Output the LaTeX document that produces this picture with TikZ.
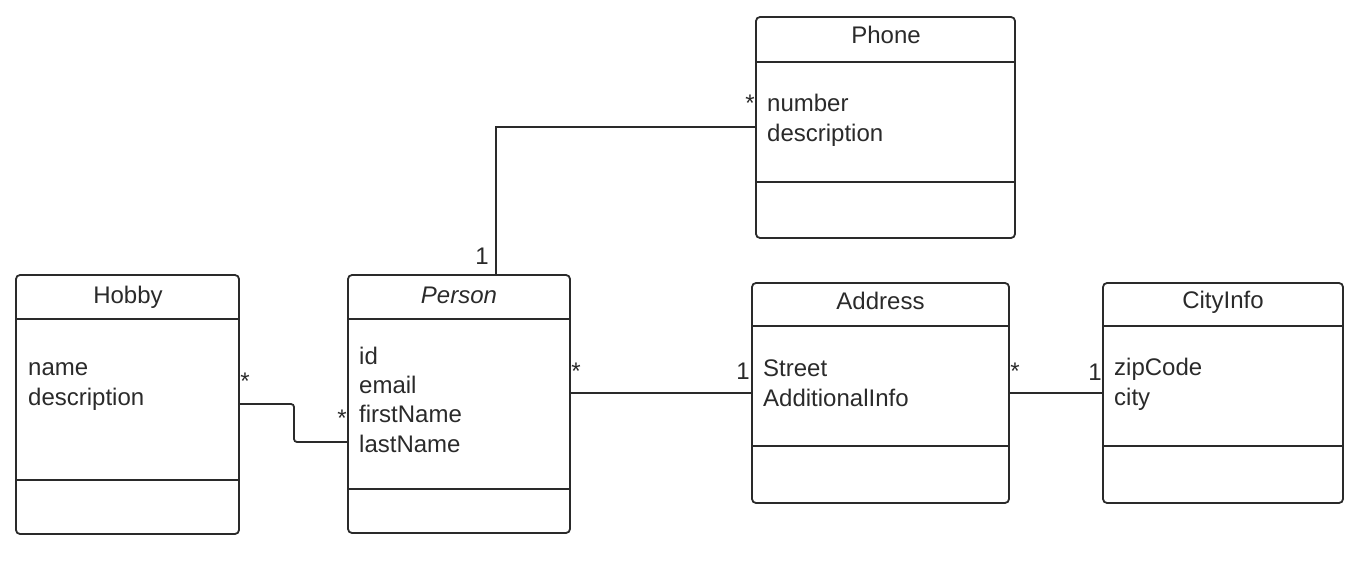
\documentclass[tikz,border=0pt]{standalone}
\usepackage{fontspec}
\setmainfont{Liberation Sans}
\definecolor{ink}{HTML}{2A2A2A}
\begin{document}
\begin{tikzpicture}[x=1pt,y=-1pt,
  font=\fontsize{24}{29.3}\selectfont,
  cls/.style={draw=ink, line width=1.8pt, rounded corners=4pt, rectangle, anchor=north west, inner sep=0pt, outer sep=0pt},
  sep/.style={draw=ink, line width=1.8pt},
  conn/.style={draw=ink, line width=1.8pt},
  title/.style={anchor=base, inner sep=0pt, text=ink},
  attrs/.style={anchor=base west, align=left, inner sep=0pt, text=ink},
  mult/.style={anchor=base, inner sep=0pt, text=ink}]
\useasboundingbox (0,0) rectangle (1364,583);
% class boxes
\node[cls, minimum width=259, minimum height=221] (phone) at (756,17) {};
\node[cls, minimum width=223, minimum height=259] (hobby) at (16,275) {};
\node[cls, minimum width=222, minimum height=258] (person) at (348,275) {};
\node[cls, minimum width=257, minimum height=220] (address) at (752,283) {};
\node[cls, minimum width=240, minimum height=220] (city) at (1103,283) {};
% compartments
\draw[sep] (phone.west |- 0,62) -- (phone.east |- 0,62);
\draw[sep] (phone.west |- 0,182) -- (phone.east |- 0,182);
\draw[sep] (hobby.west |- 0,319) -- (hobby.east |- 0,319);
\draw[sep] (hobby.west |- 0,480) -- (hobby.east |- 0,480);
\draw[sep] (person.west |- 0,319) -- (person.east |- 0,319);
\draw[sep] (person.west |- 0,489) -- (person.east |- 0,489);
\draw[sep] (address.west |- 0,326) -- (address.east |- 0,326);
\draw[sep] (address.west |- 0,446) -- (address.east |- 0,446);
\draw[sep] (city.west |- 0,326) -- (city.east |- 0,326);
\draw[sep] (city.west |- 0,446) -- (city.east |- 0,446);
% titles
\node[title] (phoneT) at (886,44) {Phone};
\node[title] (hobbyT) at (128,303) {Hobby};
\node[title] (personT) at (459,303) {\itshape Person};
\node[title] (addressT) at (880.5,309) {Address};
\node[title] (cityT) at (1223,308) {CityInfo};
% attributes (base anchor = last line baseline)
\node[attrs] (phoneA) at (767,141) {number\\description};
\node[attrs] (hobbyA) at (28,405) {name\\description};
\node[attrs] (personA) at (359,452) {id\\email\\firstName\\lastName};
\node[attrs] (addressA) at (763,406) {Street\\AdditionalInfo};
\node[attrs] (cityA) at (1114,405) {zipCode\\city};
% connectors
\coordinate (pp) at (496,127);
\draw[conn] (pp |- person.north) -- (pp) -- (phone.west |- pp);
\coordinate (hb1) at (294,404);
\coordinate (hb2) at (294,442);
\draw[conn, rounded corners=3pt] (hobby.east |- hb1) -- (hb1) -- (hb2) -- (person.west |- hb2);
\coordinate (pa) at (660,393);
\draw[conn] (person.east |- pa) -- (address.west |- pa);
\draw[conn] (address.east |- pa) -- (city.west |- pa);
% multiplicities
\node[mult] (m1) at (750,111) {*};
\node[mult] (m2) at (482,264) {1};
\node[mult] (m3) at (245,389) {*};
\node[mult] (m4) at (342,426) {*};
\node[mult] (m5) at (576,379) {*};
\node[mult] (m6) at (743,379) {1};
\node[mult] (m7) at (1015,379) {*};
\node[mult] (m8) at (1095,380) {1};
\end{tikzpicture}
\end{document}
